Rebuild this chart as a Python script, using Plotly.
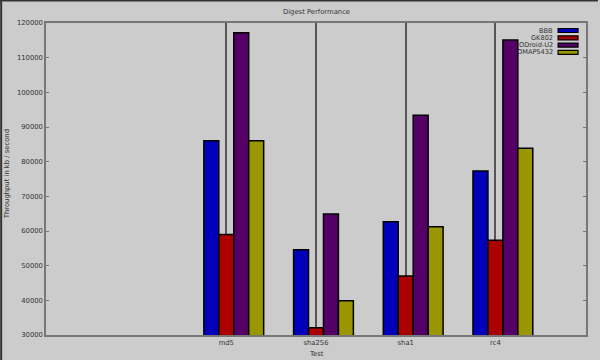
import plotly.graph_objects as go

tests = ["md5", "sha256", "sha1", "rc4"]
series_names = ["BBB", "GK802", "ODroid-U2", "OMAP5432"]
bbb = [86000, 54600, 62700, 77300]
gk802 = [59000, 32100, 47000, 57300]
odroid = [117200, 64900, 93400, 115100]
omap = [86000, 39900, 61200, 83900]
colors = ["#0000bb", "#aa0000", "#550066", "#9a9600"]

y_ticks = [30000, 40000, 50000, 60000, 70000, 80000, 90000, 100000, 110000, 120000]

W, H = 600, 360
L, R, T, B = 46, 12, 23, 25
PW, PH = W - L - R, H - T - B

def px(x):
    return (x - L) / PW

def py(y):
    return (H - B - y) / PH

FONT = "DejaVu Sans"
fig = go.Figure()
bw = 1 / 6
xs = list(range(len(tests)))
for i, (name, vals) in enumerate(zip(series_names, [bbb, gk802, odroid, omap])):
    fig.add_trace(go.Bar(
        x=xs, y=vals, name=name, width=bw, offset=(i - 1.5) * bw,
        marker=dict(color=colors[i], line=dict(color="#000000", width=1.5)),
        showlegend=False,
    ))

shapes = []
annotations = []
# manual legend (swatch on the right, like the original)
for i, name in enumerate(series_names):
    yc = 30.5 + i * 7.3
    shapes.append(dict(type="rect", xref="paper", yref="paper",
                       x0=px(560), x1=px(580), y0=py(yc + 2), y1=py(yc - 2),
                       fillcolor=colors[i], line=dict(color="#000000", width=1.2)))
    annotations.append(dict(xref="paper", yref="paper", x=px(557), y=py(yc),
                            text=name, showarrow=False, xanchor="right", yanchor="middle",
                            font=dict(family=FONT, size=6.6, color="#333333")))
# window edge border (left and top)
shapes.append(dict(type="rect", xref="paper", yref="paper", x0=px(0), x1=px(2),
                   y0=py(H), y1=py(0), fillcolor="#333333", line=dict(width=0)))
shapes.append(dict(type="rect", xref="paper", yref="paper", x0=px(0), x1=px(W),
                   y0=py(1.5), y1=py(0), fillcolor="#333333", line=dict(width=0)))

annotations.append(dict(xref="paper", yref="paper", x=px(317), y=py(12), text="Digest Performance",
                        showarrow=False, xanchor="center", yanchor="middle",
                        font=dict(family=FONT, size=6.8, color="#333333")))
annotations.append(dict(xref="paper", yref="paper", x=px(317), y=py(354), text="Test",
                        showarrow=False, xanchor="center", yanchor="middle",
                        font=dict(family=FONT, size=6.8, color="#333333")))
annotations.append(dict(xref="paper", yref="paper", x=px(7), y=py(174), text="Throughput in kb / second",
                        showarrow=False, xanchor="center", yanchor="middle", textangle=-90,
                        font=dict(family=FONT, size=6.8, color="#333333")))

fig.update_layout(
    width=W, height=H,
    margin=dict(l=L, r=R, t=T, b=B, pad=0),
    paper_bgcolor="#cccccc", plot_bgcolor="#cccccc",
    barmode="overlay",
    showlegend=False,
    shapes=shapes,
    annotations=annotations,
    xaxis=dict(
        range=[-2.01, 4.01], tickmode="array", tickvals=xs, ticktext=tests,
        showgrid=True, gridcolor="#555555", gridwidth=1.5,
        showline=True, linecolor="#777777", linewidth=1.5, mirror=True,
        ticks="", zeroline=False,
        tickfont=dict(family=FONT, size=6.8, color="#333333"),
    ),
    yaxis=dict(
        range=[30000, 120000], tickmode="array", tickvals=y_ticks,
        ticktext=[str(v) for v in y_ticks],
        showgrid=False, zeroline=False,
        showline=True, linecolor="#777777", linewidth=1.5, mirror="ticks",
        ticks="inside", ticklen=3, tickcolor="#777777", tickwidth=1,
        tickfont=dict(family=FONT, size=6.8, color="#333333"),
    ),
)

fig.write_html(
    "out.html",
    config={"displayModeBar": False},
    post_script="document.body.style.margin='0px';document.body.style.background='#cccccc';",
)
